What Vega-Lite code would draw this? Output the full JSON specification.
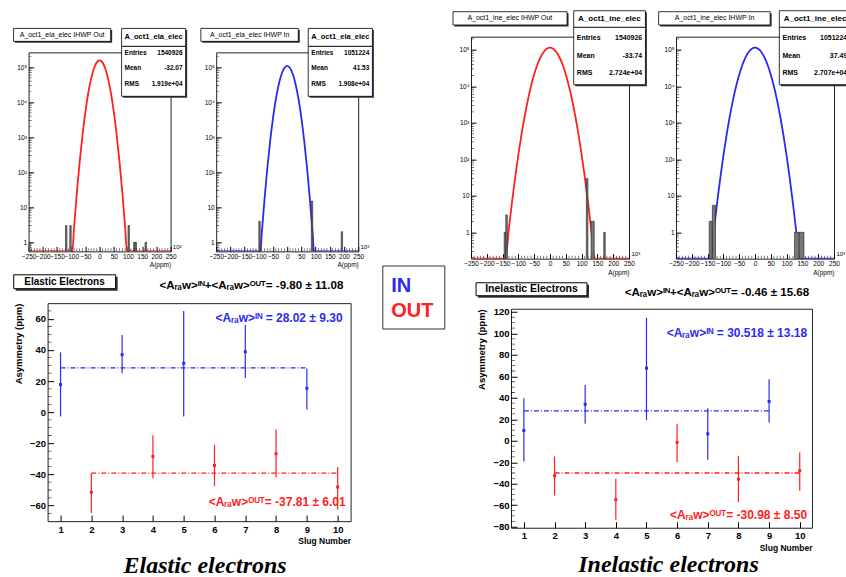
{
"$schema": "https://vega.github.io/schema/vega-lite/v6.json",
"background": "white",
"padding": {"left": 12.6, "top": 3.55, "right": 5, "bottom": 0},
"spacing": 6.7,
"hconcat": [
 {"spacing": 3.8, "vconcat": [
  {"width": 1, "height": 19.25, "view": {"stroke": null}, "data": {"values": []}, "mark": "point"},
  {"spacing": 10.6, "hconcat": [
   {"width": 142, "height": 199, "layer": [
    {"data": {"name": "curves"}, "transform": [{"filter": "datum.p=='h1'"}], "mark": {"type": "line", "color": "#ff2020", "strokeWidth": 1.8, "interpolate": "monotone", "clip": true}, "encoding": {
      "x": {"field": "x", "type": "quantitative", "scale": {"domain": [-250, 250], "nice": false, "zero": false}, "axis": {"values": [-250,-200,-150,-100,-50,0,50,100,150,200,250], "tickCount": 50, "labelFontSize": 6.5, "tickSize": -5, "labelPadding": 7, "title": "A(ppm)", "titleFontSize": 6.5, "titleFontWeight": "normal", "titleAnchor": "end", "titlePadding": 2, "labelFlush": false, "labelOverlap": false, "labelBound": false}},
      "y": {"field": "n", "type": "quantitative", "scale": {"type": "log", "domain": [0.55, 267000], "nice": false}, "axis": {"values": [1,10,100,1000,10000,100000], "tickCount": 50, "labelExpr": "datum.value < 5 ? '1' : datum.value < 50 ? '10' : datum.value < 500 ? '10²' : datum.value < 5000 ? '10³' : datum.value < 50000 ? '10⁴' : '10⁵'", "labelFontSize": 6.5, "tickSize": -5, "labelPadding": 7, "title": null, "labelOverlap": false}}}},
    {"data": {"name": "hminx"}, "mark": {"type": "tick", "orient": "vertical", "color": "black", "thickness": 0.7, "yOffset": -1.5, "clip": true}, "encoding": {"x": {"field": "v", "type": "quantitative"}, "y": {"datum": 0.55, "type": "quantitative"}, "size": {"value": 3}}},
    {"data": {"name": "hminy"}, "mark": {"type": "tick", "orient": "horizontal", "color": "black", "thickness": 0.7, "xOffset": 1.5, "clip": true}, "encoding": {"x": {"datum": -250, "type": "quantitative"}, "y": {"field": "v", "type": "quantitative"}, "size": {"value": 3}}},
    {"data": {"name": "hbars"}, "transform": [{"filter": "datum.p=='h1'"}], "mark": {"type": "rect", "fill": "#777", "stroke": "#222", "strokeWidth": 0.6, "clip": true}, "encoding": {"x": {"field": "x", "type": "quantitative"}, "x2": {"field": "x2"}, "y": {"field": "n", "type": "quantitative"}, "y2": {"datum": 0.55}}},
    {"data": {"name": "hbox"}, "transform": [{"filter": "datum.p=='h1'"}], "mark": {"type": "rect", "fill": "#333", "xOffset": 1.5, "x2Offset": 1.5, "yOffset": 1.5, "y2Offset": 1.5}, "encoding": {"x": {"field": "x", "type": "quantitative"}, "x2": {"field": "x2"}, "y": {"field": "y", "type": "quantitative"}, "y2": {"field": "y2"}}},
    {"data": {"name": "hbox"}, "transform": [{"filter": "datum.p=='h1'"}], "mark": {"type": "rect", "fill": "white", "stroke": "black", "strokeWidth": 0.8}, "encoding": {"x": {"field": "x", "type": "quantitative"}, "x2": {"field": "x2"}, "y": {"field": "y", "type": "quantitative"}, "y2": {"field": "y2"}}},
    {"data": {"name": "htext"}, "transform": [{"filter": "datum.p=='h1' && datum.k=='title'"}], "mark": {"type": "text", "fontSize": 7}, "encoding": {"x": {"field": "x", "type": "quantitative"}, "y": {"field": "y", "type": "quantitative"}, "text": {"field": "t"}}},
    {"data": {"name": "htext"}, "transform": [{"filter": "datum.p=='h1' && datum.k=='head'"}], "mark": {"type": "text", "fontSize": 7.5, "fontWeight": "bold"}, "encoding": {"x": {"field": "x", "type": "quantitative"}, "y": {"field": "y", "type": "quantitative"}, "text": {"field": "t"}}},
    {"data": {"name": "htext"}, "transform": [{"filter": "datum.p=='h1' && datum.k=='lab'"}], "mark": {"type": "text", "fontSize": 6.5, "fontWeight": "bold", "align": "left"}, "encoding": {"x": {"field": "x", "type": "quantitative"}, "y": {"field": "y", "type": "quantitative"}, "text": {"field": "t"}}},
    {"data": {"name": "htext"}, "transform": [{"filter": "datum.p=='h1' && datum.k=='val'"}], "mark": {"type": "text", "fontSize": 6.5, "fontWeight": "bold", "align": "right"}, "encoding": {"x": {"field": "x", "type": "quantitative"}, "y": {"field": "y", "type": "quantitative"}, "text": {"field": "t"}}},
    {"data": {"name": "htext"}, "transform": [{"filter": "datum.p=='h1' && datum.k=='unit'"}], "mark": {"type": "text", "fontSize": 6, "align": "left"}, "encoding": {"x": {"field": "x", "type": "quantitative"}, "y": {"field": "y", "type": "quantitative"}, "text": {"field": "t"}}}
   ]},
   {"width": 142, "height": 199, "layer": [
    {"data": {"name": "curves"}, "transform": [{"filter": "datum.p=='h2'"}], "mark": {"type": "line", "color": "#2b2bf0", "strokeWidth": 1.8, "interpolate": "monotone", "clip": true}, "encoding": {
      "x": {"field": "x", "type": "quantitative", "scale": {"domain": [-250, 250], "nice": false, "zero": false}, "axis": {"values": [-250,-200,-150,-100,-50,0,50,100,150,200,250], "tickCount": 50, "labelFontSize": 6.5, "tickSize": -5, "labelPadding": 7, "title": "A(ppm)", "titleFontSize": 6.5, "titleFontWeight": "normal", "titleAnchor": "end", "titlePadding": 2, "labelFlush": false, "labelOverlap": false, "labelBound": false}},
      "y": {"field": "n", "type": "quantitative", "scale": {"type": "log", "domain": [0.55, 267000], "nice": false}, "axis": {"values": [1,10,100,1000,10000,100000], "tickCount": 50, "labelExpr": "datum.value < 5 ? '1' : datum.value < 50 ? '10' : datum.value < 500 ? '10²' : datum.value < 5000 ? '10³' : datum.value < 50000 ? '10⁴' : '10⁵'", "labelFontSize": 6.5, "tickSize": -5, "labelPadding": 7, "title": null, "labelOverlap": false}}}},
    {"data": {"name": "hminx"}, "mark": {"type": "tick", "orient": "vertical", "color": "black", "thickness": 0.7, "yOffset": -1.5, "clip": true}, "encoding": {"x": {"field": "v", "type": "quantitative"}, "y": {"datum": 0.55, "type": "quantitative"}, "size": {"value": 3}}},
    {"data": {"name": "hminy"}, "mark": {"type": "tick", "orient": "horizontal", "color": "black", "thickness": 0.7, "xOffset": 1.5, "clip": true}, "encoding": {"x": {"datum": -250, "type": "quantitative"}, "y": {"field": "v", "type": "quantitative"}, "size": {"value": 3}}},
    {"data": {"name": "hbars"}, "transform": [{"filter": "datum.p=='h2'"}], "mark": {"type": "rect", "fill": "#777", "stroke": "#222", "strokeWidth": 0.6, "clip": true}, "encoding": {"x": {"field": "x", "type": "quantitative"}, "x2": {"field": "x2"}, "y": {"field": "n", "type": "quantitative"}, "y2": {"datum": 0.55}}},
    {"data": {"name": "hbox"}, "transform": [{"filter": "datum.p=='h2'"}], "mark": {"type": "rect", "fill": "#333", "xOffset": 1.5, "x2Offset": 1.5, "yOffset": 1.5, "y2Offset": 1.5}, "encoding": {"x": {"field": "x", "type": "quantitative"}, "x2": {"field": "x2"}, "y": {"field": "y", "type": "quantitative"}, "y2": {"field": "y2"}}},
    {"data": {"name": "hbox"}, "transform": [{"filter": "datum.p=='h2'"}], "mark": {"type": "rect", "fill": "white", "stroke": "black", "strokeWidth": 0.8}, "encoding": {"x": {"field": "x", "type": "quantitative"}, "x2": {"field": "x2"}, "y": {"field": "y", "type": "quantitative"}, "y2": {"field": "y2"}}},
    {"data": {"name": "htext"}, "transform": [{"filter": "datum.p=='h2' && datum.k=='title'"}], "mark": {"type": "text", "fontSize": 7}, "encoding": {"x": {"field": "x", "type": "quantitative"}, "y": {"field": "y", "type": "quantitative"}, "text": {"field": "t"}}},
    {"data": {"name": "htext"}, "transform": [{"filter": "datum.p=='h2' && datum.k=='head'"}], "mark": {"type": "text", "fontSize": 7.5, "fontWeight": "bold"}, "encoding": {"x": {"field": "x", "type": "quantitative"}, "y": {"field": "y", "type": "quantitative"}, "text": {"field": "t"}}},
    {"data": {"name": "htext"}, "transform": [{"filter": "datum.p=='h2' && datum.k=='lab'"}], "mark": {"type": "text", "fontSize": 6.5, "fontWeight": "bold", "align": "left"}, "encoding": {"x": {"field": "x", "type": "quantitative"}, "y": {"field": "y", "type": "quantitative"}, "text": {"field": "t"}}},
    {"data": {"name": "htext"}, "transform": [{"filter": "datum.p=='h2' && datum.k=='val'"}], "mark": {"type": "text", "fontSize": 6.5, "fontWeight": "bold", "align": "right"}, "encoding": {"x": {"field": "x", "type": "quantitative"}, "y": {"field": "y", "type": "quantitative"}, "text": {"field": "t"}}},
    {"data": {"name": "htext"}, "transform": [{"filter": "datum.p=='h2' && datum.k=='unit'"}], "mark": {"type": "text", "fontSize": 6, "align": "left"}, "encoding": {"x": {"field": "x", "type": "quantitative"}, "y": {"field": "y", "type": "quantitative"}, "text": {"field": "t"}}}
   ]}
  ]},
  {"bounds": "flush", "spacing": 18, "hconcat": [
   {"width": 1, "height": 1, "view": {"stroke": null}, "data": {"values": []}, "mark": "point"},
   {"width": 303, "height": 218,
    "title": {"text": "Elastic electrons", "orient": "bottom", "anchor": "middle", "font": "Liberation Serif", "fontSize": 24, "fontStyle": "italic", "fontWeight": "bold", "color": "black", "offset": 9, "dx": 6},
    "layer": [
     {"data": {"name": "means"}, "transform": [{"filter": "datum.p=='s1'"}], "mark": {"type": "line", "strokeDash": [5, 2, 1, 2], "strokeWidth": 1.3}, "encoding": {
       "x": {"field": "slug", "type": "quantitative", "scale": {"domain": [0.58, 10.42], "nice": false, "zero": false}, "axis": {"values": [1,2,3,4,5,6,7,8,9,10], "format": "d", "tickCount": 50, "labelFontSize": 9.5, "labelFontWeight": "bold", "tickSize": -6, "labelPadding": 9, "title": "Slug Number", "titleFontSize": 8.5, "titleFontWeight": "bold", "titleAnchor": "end", "titlePadding": 3, "labelFlush": false}},
       "y": {"field": "a", "type": "quantitative", "scale": {"domain": [-70, 70], "nice": false, "zero": false}, "axis": {"values": [-60,-40,-20,0,20,40,60], "tickCount": 50, "labelFontSize": 9.5, "labelFontWeight": "bold", "tickSize": -6, "labelPadding": 8, "title": "Asymmetry (ppm)", "titleFontSize": 9.5, "titleFontWeight": "bold", "titleAnchor": "end", "titlePadding": 6}},
       "color": {"field": "s", "type": "nominal", "scale": {"domain": ["IN", "OUT"], "range": ["#2b2bf0", "#ff2020"]}, "legend": null}}},
     {"data": {"name": "smin"}, "transform": [{"filter": "datum.p=='s1'"}], "mark": {"type": "tick", "orient": "horizontal", "color": "black", "thickness": 0.8, "xOffset": 2, "clip": true}, "encoding": {"x": {"datum": 0.58, "type": "quantitative"}, "y": {"field": "v", "type": "quantitative"}, "size": {"value": 4}}},
     {"data": {"name": "pts"}, "transform": [{"filter": "datum.p=='s1'"}], "mark": {"type": "rule", "strokeWidth": 1.2}, "encoding": {"x": {"field": "slug", "type": "quantitative"}, "y": {"field": "lo", "type": "quantitative"}, "y2": {"field": "hi"}, "color": {"field": "s", "type": "nominal", "legend": null}}},
     {"data": {"name": "pts"}, "transform": [{"filter": "datum.p=='s1'"}], "mark": {"type": "square", "size": 9, "opacity": 1, "filled": true}, "encoding": {"x": {"field": "slug", "type": "quantitative"}, "y": {"field": "a", "type": "quantitative"}, "color": {"field": "s", "type": "nominal", "legend": null}}},
     {"data": {"name": "sbox"}, "transform": [{"filter": "datum.p=='s1'"}], "mark": {"type": "rect", "fill": "#333", "xOffset": 2, "x2Offset": 2, "yOffset": 2, "y2Offset": 2}, "encoding": {"x": {"field": "x", "type": "quantitative"}, "x2": {"field": "x2"}, "y": {"field": "y", "type": "quantitative"}, "y2": {"field": "y2"}}},
     {"data": {"name": "sbox"}, "transform": [{"filter": "datum.p=='s1'"}], "mark": {"type": "rect", "fill": "white", "stroke": "black", "strokeWidth": 1}, "encoding": {"x": {"field": "x", "type": "quantitative"}, "x2": {"field": "x2"}, "y": {"field": "y", "type": "quantitative"}, "y2": {"field": "y2"}}},
     {"data": {"name": "stext"}, "transform": [{"filter": "datum.p=='s1' && datum.k=='box'"}], "mark": {"type": "text", "fontSize": 10, "fontWeight": "bold"}, "encoding": {"x": {"field": "x", "type": "quantitative"}, "y": {"field": "y", "type": "quantitative"}, "text": {"field": "t"}}},
     {"data": {"name": "stext"}, "transform": [{"filter": "datum.p=='s1' && datum.k=='sum'"}], "mark": {"type": "text", "fontSize": 11.6, "fontWeight": "bold"}, "encoding": {"x": {"field": "x", "type": "quantitative"}, "y": {"field": "y", "type": "quantitative"}, "text": {"field": "t"}}},
     {"data": {"name": "stext"}, "transform": [{"filter": "datum.p=='s1' && datum.k=='in'"}], "mark": {"type": "text", "fontSize": 12, "fontWeight": "bold", "align": "right"}, "encoding": {"x": {"field": "x", "type": "quantitative"}, "y": {"field": "y", "type": "quantitative"}, "text": {"field": "t"}, "color": {"field": "s", "type": "nominal", "legend": null}}}
    ]}
  ]}
 ]},
 {"spacing": 259.95, "vconcat": [
  {"width": 1, "height": 1, "view": {"stroke": null}, "data": {"values": []}, "mark": "point"},
  {"width": 62, "height": 63, "view": {"stroke": "#333"},
   "data": {"values": [{"t": "IN"}, {"t": "OUT"}]},
   "mark": {"type": "text", "align": "left", "baseline": "middle", "fontSize": 20, "fontWeight": "bold", "dx": 9},
   "encoding": {
    "x": {"datum": 0, "type": "quantitative", "scale": {"domain": [0, 1]}, "axis": null},
    "y": {"field": "t", "type": "nominal", "scale": {"type": "point", "domain": ["IN", "OUT"], "range": [20.5, 45.5], "padding": 0}, "axis": null},
    "text": {"field": "t"},
    "color": {"field": "t", "type": "nominal", "scale": {"domain": ["IN", "OUT"], "range": ["#2a2acc", "#ff0a0a"]}, "legend": null}}}
 ]},
 {"spacing": 5.1, "vconcat": [
  {"width": 1, "height": 1, "view": {"stroke": null}, "data": {"values": []}, "mark": "point"},
  {"spacing": 9, "hconcat": [
   {"width": 158, "height": 222, "layer": [
    {"data": {"name": "curves"}, "transform": [{"filter": "datum.p=='h3'"}], "mark": {"type": "line", "color": "#ff2020", "strokeWidth": 1.8, "interpolate": "monotone", "clip": true}, "encoding": {
      "x": {"field": "x", "type": "quantitative", "scale": {"domain": [-250, 250], "nice": false, "zero": false}, "axis": {"values": [-250,-200,-150,-100,-50,0,50,100,150,200,250], "tickCount": 50, "labelFontSize": 6.5, "tickSize": -5, "labelPadding": 7, "title": "A(ppm)", "titleFontSize": 6.5, "titleFontWeight": "normal", "titleAnchor": "end", "titlePadding": 2, "labelFlush": false, "labelOverlap": false, "labelBound": false}},
      "y": {"field": "n", "type": "quantitative", "scale": {"type": "log", "domain": [0.19, 230000], "nice": false}, "axis": {"values": [1,10,100,1000,10000,100000], "tickCount": 50, "labelExpr": "datum.value < 5 ? '1' : datum.value < 50 ? '10' : datum.value < 500 ? '10²' : datum.value < 5000 ? '10³' : datum.value < 50000 ? '10⁴' : '10⁵'", "labelFontSize": 6.5, "tickSize": -5, "labelPadding": 7, "title": null, "labelOverlap": false}}}},
    {"data": {"name": "hminx"}, "mark": {"type": "tick", "orient": "vertical", "color": "black", "thickness": 0.7, "yOffset": -1.5, "clip": true}, "encoding": {"x": {"field": "v", "type": "quantitative"}, "y": {"datum": 0.19, "type": "quantitative"}, "size": {"value": 3}}},
    {"data": {"name": "hminy"}, "mark": {"type": "tick", "orient": "horizontal", "color": "black", "thickness": 0.7, "xOffset": 1.5, "clip": true}, "encoding": {"x": {"datum": -250, "type": "quantitative"}, "y": {"field": "v", "type": "quantitative"}, "size": {"value": 3}}},
    {"data": {"name": "hbars"}, "transform": [{"filter": "datum.p=='h3'"}], "mark": {"type": "rect", "fill": "#777", "stroke": "#222", "strokeWidth": 0.6, "clip": true}, "encoding": {"x": {"field": "x", "type": "quantitative"}, "x2": {"field": "x2"}, "y": {"field": "n", "type": "quantitative"}, "y2": {"datum": 0.19}}},
    {"data": {"name": "hbox"}, "transform": [{"filter": "datum.p=='h3'"}], "mark": {"type": "rect", "fill": "#333", "xOffset": 1.5, "x2Offset": 1.5, "yOffset": 1.5, "y2Offset": 1.5}, "encoding": {"x": {"field": "x", "type": "quantitative"}, "x2": {"field": "x2"}, "y": {"field": "y", "type": "quantitative"}, "y2": {"field": "y2"}}},
    {"data": {"name": "hbox"}, "transform": [{"filter": "datum.p=='h3'"}], "mark": {"type": "rect", "fill": "white", "stroke": "black", "strokeWidth": 0.8}, "encoding": {"x": {"field": "x", "type": "quantitative"}, "x2": {"field": "x2"}, "y": {"field": "y", "type": "quantitative"}, "y2": {"field": "y2"}}},
    {"data": {"name": "htext"}, "transform": [{"filter": "datum.p=='h3' && datum.k=='title'"}], "mark": {"type": "text", "fontSize": 7}, "encoding": {"x": {"field": "x", "type": "quantitative"}, "y": {"field": "y", "type": "quantitative"}, "text": {"field": "t"}}},
    {"data": {"name": "htext"}, "transform": [{"filter": "datum.p=='h3' && datum.k=='head'"}], "mark": {"type": "text", "fontSize": 8, "fontWeight": "bold"}, "encoding": {"x": {"field": "x", "type": "quantitative"}, "y": {"field": "y", "type": "quantitative"}, "text": {"field": "t"}}},
    {"data": {"name": "htext"}, "transform": [{"filter": "datum.p=='h3' && datum.k=='lab'"}], "mark": {"type": "text", "fontSize": 7, "fontWeight": "bold", "align": "left"}, "encoding": {"x": {"field": "x", "type": "quantitative"}, "y": {"field": "y", "type": "quantitative"}, "text": {"field": "t"}}},
    {"data": {"name": "htext"}, "transform": [{"filter": "datum.p=='h3' && datum.k=='val'"}], "mark": {"type": "text", "fontSize": 7, "fontWeight": "bold", "align": "right"}, "encoding": {"x": {"field": "x", "type": "quantitative"}, "y": {"field": "y", "type": "quantitative"}, "text": {"field": "t"}}},
    {"data": {"name": "htext"}, "transform": [{"filter": "datum.p=='h3' && datum.k=='unit'"}], "mark": {"type": "text", "fontSize": 6, "align": "left"}, "encoding": {"x": {"field": "x", "type": "quantitative"}, "y": {"field": "y", "type": "quantitative"}, "text": {"field": "t"}}}
   ]},
   {"width": 158, "height": 222, "layer": [
    {"data": {"name": "curves"}, "transform": [{"filter": "datum.p=='h4'"}], "mark": {"type": "line", "color": "#2b2bf0", "strokeWidth": 1.8, "interpolate": "monotone", "clip": true}, "encoding": {
      "x": {"field": "x", "type": "quantitative", "scale": {"domain": [-250, 250], "nice": false, "zero": false}, "axis": {"values": [-250,-200,-150,-100,-50,0,50,100,150,200,250], "tickCount": 50, "labelFontSize": 6.5, "tickSize": -5, "labelPadding": 7, "title": "A(ppm)", "titleFontSize": 6.5, "titleFontWeight": "normal", "titleAnchor": "end", "titlePadding": 2, "labelFlush": false, "labelOverlap": false, "labelBound": false}},
      "y": {"field": "n", "type": "quantitative", "scale": {"type": "log", "domain": [0.19, 230000], "nice": false}, "axis": {"values": [1,10,100,1000,10000,100000], "tickCount": 50, "labelExpr": "datum.value < 5 ? '1' : datum.value < 50 ? '10' : datum.value < 500 ? '10²' : datum.value < 5000 ? '10³' : datum.value < 50000 ? '10⁴' : '10⁵'", "labelFontSize": 6.5, "tickSize": -5, "labelPadding": 7, "title": null, "labelOverlap": false}}}},
    {"data": {"name": "hminx"}, "mark": {"type": "tick", "orient": "vertical", "color": "black", "thickness": 0.7, "yOffset": -1.5, "clip": true}, "encoding": {"x": {"field": "v", "type": "quantitative"}, "y": {"datum": 0.19, "type": "quantitative"}, "size": {"value": 3}}},
    {"data": {"name": "hminy"}, "mark": {"type": "tick", "orient": "horizontal", "color": "black", "thickness": 0.7, "xOffset": 1.5, "clip": true}, "encoding": {"x": {"datum": -250, "type": "quantitative"}, "y": {"field": "v", "type": "quantitative"}, "size": {"value": 3}}},
    {"data": {"name": "hbars"}, "transform": [{"filter": "datum.p=='h4'"}], "mark": {"type": "rect", "fill": "#777", "stroke": "#222", "strokeWidth": 0.6, "clip": true}, "encoding": {"x": {"field": "x", "type": "quantitative"}, "x2": {"field": "x2"}, "y": {"field": "n", "type": "quantitative"}, "y2": {"datum": 0.19}}},
    {"data": {"name": "hbox"}, "transform": [{"filter": "datum.p=='h4'"}], "mark": {"type": "rect", "fill": "#333", "xOffset": 1.5, "x2Offset": 1.5, "yOffset": 1.5, "y2Offset": 1.5}, "encoding": {"x": {"field": "x", "type": "quantitative"}, "x2": {"field": "x2"}, "y": {"field": "y", "type": "quantitative"}, "y2": {"field": "y2"}}},
    {"data": {"name": "hbox"}, "transform": [{"filter": "datum.p=='h4'"}], "mark": {"type": "rect", "fill": "white", "stroke": "black", "strokeWidth": 0.8}, "encoding": {"x": {"field": "x", "type": "quantitative"}, "x2": {"field": "x2"}, "y": {"field": "y", "type": "quantitative"}, "y2": {"field": "y2"}}},
    {"data": {"name": "htext"}, "transform": [{"filter": "datum.p=='h4' && datum.k=='title'"}], "mark": {"type": "text", "fontSize": 7}, "encoding": {"x": {"field": "x", "type": "quantitative"}, "y": {"field": "y", "type": "quantitative"}, "text": {"field": "t"}}},
    {"data": {"name": "htext"}, "transform": [{"filter": "datum.p=='h4' && datum.k=='head'"}], "mark": {"type": "text", "fontSize": 8, "fontWeight": "bold"}, "encoding": {"x": {"field": "x", "type": "quantitative"}, "y": {"field": "y", "type": "quantitative"}, "text": {"field": "t"}}},
    {"data": {"name": "htext"}, "transform": [{"filter": "datum.p=='h4' && datum.k=='lab'"}], "mark": {"type": "text", "fontSize": 7, "fontWeight": "bold", "align": "left"}, "encoding": {"x": {"field": "x", "type": "quantitative"}, "y": {"field": "y", "type": "quantitative"}, "text": {"field": "t"}}},
    {"data": {"name": "htext"}, "transform": [{"filter": "datum.p=='h4' && datum.k=='val'"}], "mark": {"type": "text", "fontSize": 7, "fontWeight": "bold", "align": "right"}, "encoding": {"x": {"field": "x", "type": "quantitative"}, "y": {"field": "y", "type": "quantitative"}, "text": {"field": "t"}}},
    {"data": {"name": "htext"}, "transform": [{"filter": "datum.p=='h4' && datum.k=='unit'"}], "mark": {"type": "text", "fontSize": 6, "align": "left"}, "encoding": {"x": {"field": "x", "type": "quantitative"}, "y": {"field": "y", "type": "quantitative"}, "text": {"field": "t"}}}
   ]}
  ]},
  {"bounds": "flush", "spacing": 39, "hconcat": [
   {"width": 1, "height": 1, "view": {"stroke": null}, "data": {"values": []}, "mark": "point"},
   {"width": 301, "height": 219,
    "title": {"text": "Inelastic electrons", "orient": "bottom", "anchor": "middle", "font": "Liberation Serif", "fontSize": 24, "fontStyle": "italic", "fontWeight": "bold", "color": "black", "offset": 1, "dx": 7},
    "layer": [
     {"data": {"name": "means"}, "transform": [{"filter": "datum.p=='s2'"}], "mark": {"type": "line", "strokeDash": [5, 2, 1, 2], "strokeWidth": 1.3}, "encoding": {
       "x": {"field": "slug", "type": "quantitative", "scale": {"domain": [0.58, 10.4], "nice": false, "zero": false}, "axis": {"values": [1,2,3,4,5,6,7,8,9,10], "format": "d", "tickCount": 50, "labelFontSize": 9.5, "labelFontWeight": "bold", "tickSize": -6, "labelPadding": 9, "title": "Slug Number", "titleFontSize": 8.5, "titleFontWeight": "bold", "titleAnchor": "end", "titlePadding": 3, "labelFlush": false}},
       "y": {"field": "a", "type": "quantitative", "scale": {"domain": [-81, 123], "nice": false, "zero": false}, "axis": {"values": [-80,-60,-40,-20,0,20,40,60,80,100,120], "tickCount": 50, "labelFontSize": 9.5, "labelFontWeight": "bold", "tickSize": -6, "labelPadding": 8, "title": "Asymmetry (ppm)", "titleFontSize": 9.5, "titleFontWeight": "bold", "titleAnchor": "end", "titlePadding": 6}},
       "color": {"field": "s", "type": "nominal", "scale": {"domain": ["IN", "OUT"], "range": ["#2b2bf0", "#ff2020"]}, "legend": null}}},
     {"data": {"name": "smin"}, "transform": [{"filter": "datum.p=='s2'"}], "mark": {"type": "tick", "orient": "horizontal", "color": "black", "thickness": 0.8, "xOffset": 2, "clip": true}, "encoding": {"x": {"datum": 0.58, "type": "quantitative"}, "y": {"field": "v", "type": "quantitative"}, "size": {"value": 4}}},
     {"data": {"name": "pts"}, "transform": [{"filter": "datum.p=='s2'"}], "mark": {"type": "rule", "strokeWidth": 1.2}, "encoding": {"x": {"field": "slug", "type": "quantitative"}, "y": {"field": "lo", "type": "quantitative"}, "y2": {"field": "hi"}, "color": {"field": "s", "type": "nominal", "legend": null}}},
     {"data": {"name": "pts"}, "transform": [{"filter": "datum.p=='s2'"}], "mark": {"type": "square", "size": 9, "opacity": 1, "filled": true}, "encoding": {"x": {"field": "slug", "type": "quantitative"}, "y": {"field": "a", "type": "quantitative"}, "color": {"field": "s", "type": "nominal", "legend": null}}},
     {"data": {"name": "sbox"}, "transform": [{"filter": "datum.p=='s2'"}], "mark": {"type": "rect", "fill": "#333", "xOffset": 2, "x2Offset": 2, "yOffset": 2, "y2Offset": 2}, "encoding": {"x": {"field": "x", "type": "quantitative"}, "x2": {"field": "x2"}, "y": {"field": "y", "type": "quantitative"}, "y2": {"field": "y2"}}},
     {"data": {"name": "sbox"}, "transform": [{"filter": "datum.p=='s2'"}], "mark": {"type": "rect", "fill": "white", "stroke": "black", "strokeWidth": 1}, "encoding": {"x": {"field": "x", "type": "quantitative"}, "x2": {"field": "x2"}, "y": {"field": "y", "type": "quantitative"}, "y2": {"field": "y2"}}},
     {"data": {"name": "stext"}, "transform": [{"filter": "datum.p=='s2' && datum.k=='box'"}], "mark": {"type": "text", "fontSize": 10.5, "fontWeight": "bold"}, "encoding": {"x": {"field": "x", "type": "quantitative"}, "y": {"field": "y", "type": "quantitative"}, "text": {"field": "t"}}},
     {"data": {"name": "stext"}, "transform": [{"filter": "datum.p=='s2' && datum.k=='sum'"}], "mark": {"type": "text", "fontSize": 11.6, "fontWeight": "bold"}, "encoding": {"x": {"field": "x", "type": "quantitative"}, "y": {"field": "y", "type": "quantitative"}, "text": {"field": "t"}}},
     {"data": {"name": "stext"}, "transform": [{"filter": "datum.p=='s2' && datum.k=='in'"}], "mark": {"type": "text", "fontSize": 12, "fontWeight": "bold", "align": "right"}, "encoding": {"x": {"field": "x", "type": "quantitative"}, "y": {"field": "y", "type": "quantitative"}, "text": {"field": "t"}, "color": {"field": "s", "type": "nominal", "legend": null}}}
    ]}
  ]}
 ]}
],
"datasets": {
 "curves": [
  {"p":"h1","x":-250,"n":0.55},{"p":"h1","x":-96,"n":0.55},{"p":"h1","x":-90,"n":2.65},{"p":"h1","x":-80,"n":26.7},{"p":"h1","x":-70,"n":205},{"p":"h1","x":-60,"n":1190},{"p":"h1","x":-50,"n":5300},{"p":"h1","x":-40,"n":18100},{"p":"h1","x":-30,"n":46700},{"p":"h1","x":-20,"n":92000},{"p":"h1","x":-10,"n":138000},{"p":"h1","x":0,"n":158000},{"p":"h1","x":10,"n":138000},{"p":"h1","x":20,"n":92000},{"p":"h1","x":30,"n":46700},{"p":"h1","x":40,"n":18100},{"p":"h1","x":50,"n":5300},{"p":"h1","x":60,"n":1190},{"p":"h1","x":70,"n":205},{"p":"h1","x":80,"n":26.7},{"p":"h1","x":90,"n":2.65},{"p":"h1","x":96,"n":0.55},{"p":"h1","x":250,"n":0.55},
  {"p":"h2","x":-250,"n":0.55},{"p":"h2","x":-94,"n":0.55},{"p":"h2","x":-90,"n":1.6},{"p":"h2","x":-80,"n":16.6},{"p":"h2","x":-70,"n":130},{"p":"h2","x":-60,"n":778},{"p":"h2","x":-50,"n":3530},{"p":"h2","x":-40,"n":12200},{"p":"h2","x":-30,"n":31800},{"p":"h2","x":-20,"n":63200},{"p":"h2","x":-10,"n":95500},{"p":"h2","x":0,"n":110000},{"p":"h2","x":10,"n":95500},{"p":"h2","x":20,"n":63200},{"p":"h2","x":30,"n":31800},{"p":"h2","x":40,"n":12200},{"p":"h2","x":50,"n":3530},{"p":"h2","x":60,"n":778},{"p":"h2","x":70,"n":130},{"p":"h2","x":80,"n":16.6},{"p":"h2","x":90,"n":1.6},{"p":"h2","x":94,"n":0.55},{"p":"h2","x":250,"n":0.55},
  {"p":"h3","x":-250,"n":0.19},{"p":"h3","x":-141,"n":0.19},{"p":"h3","x":-130,"n":1.3},{"p":"h3","x":-120,"n":7.0},{"p":"h3","x":-110,"n":33},{"p":"h3","x":-100,"n":136},{"p":"h3","x":-90,"n":489},{"p":"h3","x":-80,"n":1540},{"p":"h3","x":-70,"n":4230},{"p":"h3","x":-60,"n":10100},{"p":"h3","x":-50,"n":21300},{"p":"h3","x":-40,"n":39100},{"p":"h3","x":-30,"n":62700},{"p":"h3","x":-20,"n":87700},{"p":"h3","x":-10,"n":107000},{"p":"h3","x":0,"n":115000},{"p":"h3","x":10,"n":107000},{"p":"h3","x":20,"n":87700},{"p":"h3","x":30,"n":62700},{"p":"h3","x":40,"n":39100},{"p":"h3","x":50,"n":21300},{"p":"h3","x":60,"n":10100},{"p":"h3","x":70,"n":4230},{"p":"h3","x":80,"n":1540},{"p":"h3","x":90,"n":489},{"p":"h3","x":100,"n":136},{"p":"h3","x":110,"n":33},{"p":"h3","x":120,"n":7.0},{"p":"h3","x":130,"n":1.3},{"p":"h3","x":141,"n":0.19},{"p":"h3","x":250,"n":0.19},
  {"p":"h4","x":-250,"n":0.19},{"p":"h4","x":-140,"n":0.19},{"p":"h4","x":-130,"n":1.14},{"p":"h4","x":-120,"n":6.3},{"p":"h4","x":-110,"n":30},{"p":"h4","x":-100,"n":126},{"p":"h4","x":-90,"n":459},{"p":"h4","x":-80,"n":1470},{"p":"h4","x":-70,"n":4070},{"p":"h4","x":-60,"n":9860},{"p":"h4","x":-50,"n":20900},{"p":"h4","x":-40,"n":38600},{"p":"h4","x":-30,"n":62200},{"p":"h4","x":-20,"n":87400},{"p":"h4","x":-10,"n":107000},{"p":"h4","x":0,"n":115000},{"p":"h4","x":10,"n":107000},{"p":"h4","x":20,"n":87400},{"p":"h4","x":30,"n":62200},{"p":"h4","x":40,"n":38600},{"p":"h4","x":50,"n":20900},{"p":"h4","x":60,"n":9860},{"p":"h4","x":70,"n":4070},{"p":"h4","x":80,"n":1470},{"p":"h4","x":90,"n":459},{"p":"h4","x":100,"n":126},{"p":"h4","x":110,"n":30},{"p":"h4","x":120,"n":6.3},{"p":"h4","x":130,"n":1.14},{"p":"h4","x":140,"n":0.19},{"p":"h4","x":250,"n":0.19}
 ],
 "hbars": [
  {"p":"h1","x":-250,"x2":-245,"n":1},{"p":"h1","x":-120,"x2":-115,"n":3},{"p":"h1","x":-105,"x2":-100,"n":3},{"p":"h1","x":100,"x2":105,"n":3},{"p":"h1","x":120,"x2":125,"n":1},{"p":"h1","x":125,"x2":130,"n":1},{"p":"h1","x":160,"x2":165,"n":1},
  {"p":"h2","x":-100,"x2":-95,"n":4},{"p":"h2","x":85,"x2":90,"n":15},{"p":"h2","x":190,"x2":195,"n":2},
  {"p":"h3","x":-145,"x2":-140,"n":1},{"p":"h3","x":-140,"x2":-135,"n":3},{"p":"h3","x":115,"x2":120,"n":30},{"p":"h3","x":130,"x2":140,"n":2},{"p":"h3","x":170,"x2":175,"n":1},
  {"p":"h4","x":-145,"x2":-135,"n":2},{"p":"h4","x":-135,"x2":-125,"n":5.5},{"p":"h4","x":125,"x2":140,"n":1},{"p":"h4","x":140,"x2":155,"n":1}
 ],
 "hbox": [
  {"p":"h1","x":-303,"x2":39,"y":550000,"y2":1290000},{"p":"h1","x":77.5,"x2":303,"y":395000,"y2":1290000},{"p":"h1","x":77.5,"x2":303,"y":14800,"y2":395000},
  {"p":"h2","x":-304,"x2":39,"y":550000,"y2":1290000},{"p":"h2","x":74,"x2":300,"y":395000,"y2":1290000},{"p":"h2","x":74,"x2":300,"y":14800,"y2":395000},
  {"p":"h3","x":-307,"x2":54,"y":480000,"y2":1110000},{"p":"h3","x":75,"x2":302,"y":413000,"y2":1180000},{"p":"h3","x":75,"x2":302,"y":11100,"y2":413000},
  {"p":"h4","x":-305,"x2":48,"y":480000,"y2":1110000},{"p":"h4","x":77,"x2":302,"y":413000,"y2":1180000},{"p":"h4","x":77,"x2":302,"y":11100,"y2":413000}
 ],
 "htext": [
  {"p":"h1","k":"title","x":-132,"y":850000,"t":"A_oct1_ela_elec IHWP Out"},
  {"p":"h1","k":"head","x":190,"y":710000,"t":"A_oct1_ela_elec"},
  {"p":"h1","k":"lab","x":88,"y":250000,"t":"Entries"},{"p":"h1","k":"val","x":292,"y":250000,"t":"1540926"},
  {"p":"h1","k":"lab","x":88,"y":93000,"t":"Mean"},{"p":"h1","k":"val","x":292,"y":93000,"t":"-32.07"},
  {"p":"h1","k":"lab","x":88,"y":32500,"t":"RMS"},{"p":"h1","k":"val","x":292,"y":32500,"t":"1.919e+04"},
  {"p":"h1","k":"unit","x":258,"y":0.72,"t":"10³"},
  {"p":"h2","k":"title","x":-132,"y":850000,"t":"A_oct1_ela_elec IHWP In"},
  {"p":"h2","k":"head","x":187,"y":710000,"t":"A_oct1_ela_elec"},
  {"p":"h2","k":"lab","x":85,"y":250000,"t":"Entries"},{"p":"h2","k":"val","x":289,"y":250000,"t":"1051224"},
  {"p":"h2","k":"lab","x":85,"y":93000,"t":"Mean"},{"p":"h2","k":"val","x":289,"y":93000,"t":"41.53"},
  {"p":"h2","k":"lab","x":85,"y":32500,"t":"RMS"},{"p":"h2","k":"val","x":289,"y":32500,"t":"1.908e+04"},
  {"p":"h2","k":"unit","x":258,"y":0.72,"t":"10³"},
  {"p":"h3","k":"title","x":-127,"y":730000,"t":"A_oct1_ine_elec IHWP Out"},
  {"p":"h3","k":"head","x":188,"y":700000,"t":"A_oct1_ine_elec"},
  {"p":"h3","k":"lab","x":85,"y":211000,"t":"Entries"},{"p":"h3","k":"val","x":292,"y":211000,"t":"1540926"},
  {"p":"h3","k":"lab","x":85,"y":69000,"t":"Mean"},{"p":"h3","k":"val","x":292,"y":69000,"t":"-33.74"},
  {"p":"h3","k":"lab","x":85,"y":22800,"t":"RMS"},{"p":"h3","k":"val","x":292,"y":22800,"t":"2.724e+04"},
  {"p":"h3","k":"unit","x":258,"y":0.25,"t":"10³"},
  {"p":"h4","k":"title","x":-128,"y":730000,"t":"A_oct1_ine_elec IHWP In"},
  {"p":"h4","k":"head","x":190,"y":700000,"t":"A_oct1_ine_elec"},
  {"p":"h4","k":"lab","x":87,"y":211000,"t":"Entries"},{"p":"h4","k":"val","x":292,"y":211000,"t":"1051224"},
  {"p":"h4","k":"lab","x":87,"y":69000,"t":"Mean"},{"p":"h4","k":"val","x":292,"y":69000,"t":"37.49"},
  {"p":"h4","k":"lab","x":87,"y":22800,"t":"RMS"},{"p":"h4","k":"val","x":292,"y":22800,"t":"2.707e+04"},
  {"p":"h4","k":"unit","x":258,"y":0.25,"t":"10³"}
 ],
 "hminx": [{"v":-240},{"v":-230},{"v":-220},{"v":-210},{"v":-190},{"v":-180},{"v":-170},{"v":-160},{"v":-140},{"v":-130},{"v":-120},{"v":-110},{"v":-90},{"v":-80},{"v":-70},{"v":-60},{"v":-40},{"v":-30},{"v":-20},{"v":-10},{"v":10},{"v":20},{"v":30},{"v":40},{"v":60},{"v":70},{"v":80},{"v":90},{"v":110},{"v":120},{"v":130},{"v":140},{"v":160},{"v":170},{"v":180},{"v":190},{"v":210},{"v":220},{"v":230},{"v":240}],
 "hminy": [{"v":0.2},{"v":0.3},{"v":0.4},{"v":0.5},{"v":0.6},{"v":0.7},{"v":0.8},{"v":0.9},{"v":2},{"v":3},{"v":4},{"v":5},{"v":6},{"v":7},{"v":8},{"v":9},{"v":20},{"v":30},{"v":40},{"v":50},{"v":60},{"v":70},{"v":80},{"v":90},{"v":200},{"v":300},{"v":400},{"v":500},{"v":600},{"v":700},{"v":800},{"v":900},{"v":2000},{"v":3000},{"v":4000},{"v":5000},{"v":6000},{"v":7000},{"v":8000},{"v":9000},{"v":20000},{"v":30000},{"v":40000},{"v":50000},{"v":60000},{"v":70000},{"v":80000},{"v":90000},{"v":200000}],
 "pts": [
  {"p":"s1","s":"IN","slug":1,"a":17.7,"lo":-2.8,"hi":38.4},{"p":"s1","s":"IN","slug":3,"a":36.9,"lo":25,"hi":49.5},{"p":"s1","s":"IN","slug":5,"a":31.4,"lo":-2.8,"hi":65},{"p":"s1","s":"IN","slug":7,"a":38.8,"lo":22,"hi":56},{"p":"s1","s":"IN","slug":9,"a":15.3,"lo":1.7,"hi":28},
  {"p":"s1","s":"OUT","slug":2,"a":-51.5,"lo":-64.8,"hi":-39},{"p":"s1","s":"OUT","slug":4,"a":-28.5,"lo":-42.4,"hi":-14.8},{"p":"s1","s":"OUT","slug":6,"a":-34.2,"lo":-47.7,"hi":-21},{"p":"s1","s":"OUT","slug":8,"a":-26.7,"lo":-42,"hi":-11.2},{"p":"s1","s":"OUT","slug":10,"a":-48.1,"lo":-62.6,"hi":-35.3},
  {"p":"s2","s":"IN","slug":1,"a":9.6,"lo":-19.3,"hi":39.7},{"p":"s2","s":"IN","slug":3,"a":34,"lo":15.8,"hi":52},{"p":"s2","s":"IN","slug":5,"a":67.6,"lo":19.5,"hi":114.7},{"p":"s2","s":"IN","slug":7,"a":6.5,"lo":-17.7,"hi":30.4},{"p":"s2","s":"IN","slug":9,"a":36.6,"lo":17,"hi":57.4},
  {"p":"s2","s":"OUT","slug":2,"a":-32.6,"lo":-51,"hi":-14.6},{"p":"s2","s":"OUT","slug":4,"a":-54.9,"lo":-73.5,"hi":-35.3},{"p":"s2","s":"OUT","slug":6,"a":-1.5,"lo":-19.8,"hi":15.8},{"p":"s2","s":"OUT","slug":8,"a":-35.7,"lo":-57.4,"hi":-14},{"p":"s2","s":"OUT","slug":10,"a":-27.9,"lo":-46.5,"hi":-10.9}
 ],
 "means": [
  {"p":"s1","s":"IN","slug":1,"a":28.4},{"p":"s1","s":"IN","slug":9,"a":28.4},{"p":"s1","s":"OUT","slug":2,"a":-39.2},{"p":"s1","s":"OUT","slug":10,"a":-39.2},
  {"p":"s2","s":"IN","slug":1,"a":27.9},{"p":"s2","s":"IN","slug":9,"a":27.9},{"p":"s2","s":"OUT","slug":2,"a":-30},{"p":"s2","s":"OUT","slug":10,"a":-30}
 ],
 "smin": [
  {"p":"s1","v":-65},{"p":"s1","v":-55},{"p":"s1","v":-50},{"p":"s1","v":-45},{"p":"s1","v":-35},{"p":"s1","v":-30},{"p":"s1","v":-25},{"p":"s1","v":-15},{"p":"s1","v":-10},{"p":"s1","v":-5},{"p":"s1","v":5},{"p":"s1","v":10},{"p":"s1","v":15},{"p":"s1","v":25},{"p":"s1","v":30},{"p":"s1","v":35},{"p":"s1","v":45},{"p":"s1","v":50},{"p":"s1","v":55},{"p":"s1","v":65},
  {"p":"s2","v":-75},{"p":"s2","v":-70},{"p":"s2","v":-65},{"p":"s2","v":-55},{"p":"s2","v":-50},{"p":"s2","v":-45},{"p":"s2","v":-35},{"p":"s2","v":-30},{"p":"s2","v":-25},{"p":"s2","v":-15},{"p":"s2","v":-10},{"p":"s2","v":-5},{"p":"s2","v":5},{"p":"s2","v":10},{"p":"s2","v":15},{"p":"s2","v":25},{"p":"s2","v":30},{"p":"s2","v":35},{"p":"s2","v":45},{"p":"s2","v":50},{"p":"s2","v":55},{"p":"s2","v":65},{"p":"s2","v":70},{"p":"s2","v":75},{"p":"s2","v":85},{"p":"s2","v":90},{"p":"s2","v":95},{"p":"s2","v":105},{"p":"s2","v":110},{"p":"s2","v":115}
 ],
 "sbox": [
  {"p":"s1","x":-0.52,"x2":2.79,"y":79.3,"y2":88.2},
  {"p":"s2","x":-0.56,"x2":3.06,"y":135.1,"y2":147.2}
 ],
 "stext": [
  {"p":"s1","k":"box","x":1.13,"y":83.7,"t":"Elastic Electrons"},
  {"p":"s1","k":"sum","x":7.2,"y":80.9,"t":"<Aᵣₐw>ᴵᴺ+<Aᵣₐw>ᴼᵁᵀ= -9.80 ± 11.08"},
  {"p":"s1","k":"in","s":"IN","x":10.16,"y":60.4,"t":"<Aᵣₐw>ᴵᴺ = 28.02 ± 9.30"},
  {"p":"s1","k":"in","s":"OUT","x":10.26,"y":-57.6,"t":"<Aᵣₐw>ᴼᵁᵀ= -37.81 ± 6.01"},
  {"p":"s2","k":"box","x":1.25,"y":141.2,"t":"Inelastic Electrons"},
  {"p":"s2","k":"sum","x":7.3,"y":137.9,"t":"<Aᵣₐw>ᴵᴺ+<Aᵣₐw>ᴼᵁᵀ= -0.46 ± 15.68"},
  {"p":"s2","k":"in","s":"IN","x":10.24,"y":100.6,"t":"<Aᵣₐw>ᴵᴺ = 30.518 ± 13.18"},
  {"p":"s2","k":"in","s":"OUT","x":10.24,"y":-68.9,"t":"<Aᵣₐw>ᴼᵁᵀ= -30.98 ± 8.50"}
 ]
},
"config": {
 "font": "Liberation Sans",
 "view": {"stroke": "#222", "strokeWidth": 1},
 "axis": {"grid": false, "domain": false, "labelOverlap": false, "labelColor": "black", "titleColor": "black", "tickColor": "black", "labelFont": "Liberation Sans", "titleFont": "Liberation Sans"},
 "text": {"font": "Liberation Sans", "color": "black"}
}
}
